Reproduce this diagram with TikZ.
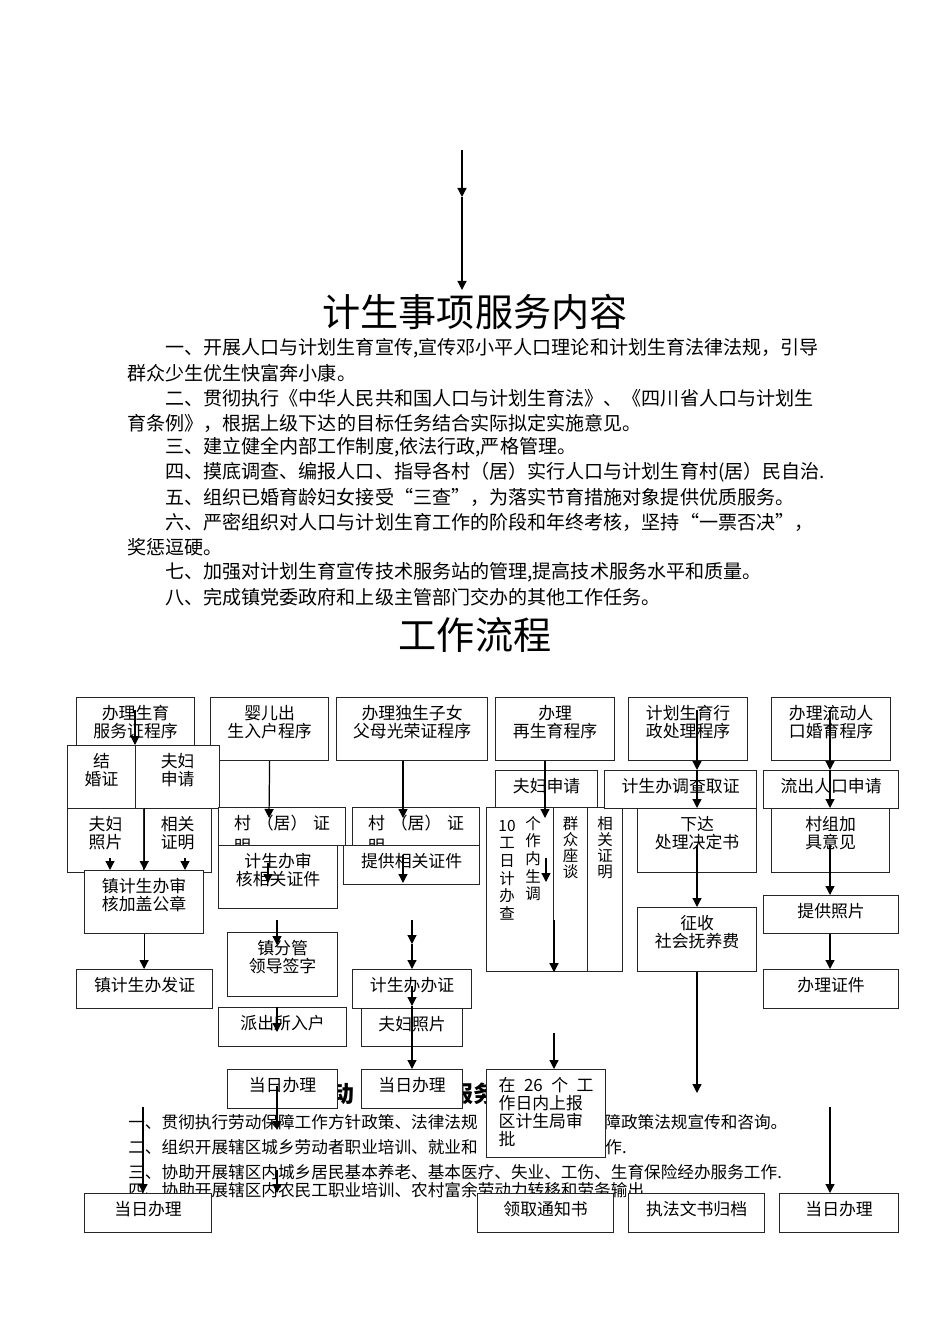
\documentclass[tikz,border=0pt]{standalone}
\usepackage{fontspec}
\setmainfont{Noto Sans CJK SC}
\usetikzlibrary{arrows.meta}
\newcommand\ttlfnt{\fontsize{21.7pt}{26pt}\selectfont}
\newcommand\bdyfnt{\fontsize{10.85pt}{13pt}\selectfont}
\newcommand\lbrfnt{\fontsize{9.47pt}{12pt}\selectfont}
\newcommand\hdfnt{\fontsize{13pt}{15pt}\selectfont\bfseries}
\newcommand\flwfnt{\fontsize{9.6pt}{10.2pt}\selectfont}
\newcommand\vrtfnt{\fontsize{8.8pt}{9.1pt}\selectfont}
\newcommand\colfnt{\fontsize{8.8pt}{10pt}\selectfont}

\begin{document}
\begin{tikzpicture}[x=0.02cm, y=-0.02cm, >={Triangle[length=1.8mm, width=1.8mm]},
  every node/.style={inner sep=0pt},
  bodyline/.style={anchor=west, font=\bdyfnt},
  laborline/.style={anchor=west, font=\lbrfnt},
  box/.style 2 args={draw=black!85, line width=0.7pt, fill=white, anchor=north west, align=center, font=\flwfnt,
    /utils/exec={\pgfmathsetlengthmacro\bxwd{#1*0.02cm}\pgfmathsetlengthmacro\bxdp{#2*0.02cm-0.44cm}},
    text width=\bxwd, text height=0.44cm, text depth=\bxdp},
  vcol/.style={anchor=north, align=center, font=\colfnt, text width=0.6cm, text height=0.28cm},
  flow/.style={->, line width=0.7pt}]
  \useasboundingbox (0,0) rectangle (950,1344);
  \fill[white] (0,0) rectangle (950,1344);

  % service text
  \node[font=\ttlfnt] (ttl1) at (475,312) {计生事项服务内容};
  \node[bodyline] (p1) at (165,348) {一、开展人口与计划生育宣传,宣传邓小平人口理论和计划生育法律法规，引导};
  \node[bodyline] (p2) at (127,373) {群众少生优生快富奔小康。};
  \node[bodyline] (p3) at (165,398) {二、贯彻执行《中华人民共和国人口与计划生育法》、《四川省人口与计划生};
  \node[bodyline] (p4) at (127,423) {育条例》，根据上级下达的目标任务结合实际拟定实施意见。};
  \node[bodyline] (p5) at (165,447) {三、建立健全内部工作制度,依法行政,严格管理。};
  \node[bodyline] (p6) at (165,472) {四、摸底调查、编报人口、指导各村（居）实行人口与计划生育村(居）民自治.};
  \node[bodyline] (p7) at (165,497) {五、组织已婚育龄妇女接受“三查”，为落实节育措施对象提供优质服务。};
  \node[bodyline] (p8) at (165,522) {六、严密组织对人口与计划生育工作的阶段和年终考核，坚持“一票否决”，};
  \node[bodyline] (p9) at (127,547) {奖惩逗硬。};
  \node[bodyline] (p10) at (165,572) {七、加强对计划生育宣传技术服务站的管理,提高技术服务水平和质量。};
  \node[bodyline] (p11) at (165,597) {八、完成镇党委政府和上级主管部门交办的其他工作任务。};
  \node[font=\ttlfnt] (ttl2) at (475,635) {工作流程};

  % labour text, partly hidden by the boxes
  \node[font=\hdfnt] (lh1) at (343,1094) {动};
  \node[font=\hdfnt] (lh2) at (473,1094) {服务};
  \node[laborline] (l1) at (128,1122) {一、贯彻执行劳动保障工作方针政策、法律法规};
  \node[laborline] (l1b) at (604,1122) {障政策法规宣传和咨询。};
  \node[laborline] (l2) at (128,1147) {二、组织开展辖区城乡劳动者职业培训、就业和};
  \node[laborline] (l2b) at (605,1147) {作.};
  \node[laborline] (l3) at (128,1172) {三、协助开展辖区内城乡居民基本养老、基本医疗、失业、工伤、生育保险经办服务工作.};
  \node[laborline] (l4) at (128,1190) {四、协助开展辖区内农民工职业培训、农村富余劳动力转移和劳务输出};

  % flow boxes
  \node[box={118}{50}] (a1) at (76,697) {办理生育\\服务证程序};
  \node[box={118}{63}] (a2) at (210,697) {婴儿出\\生入户程序};
  \node[box={151}{63}] (a3) at (336,697) {办理独生子女\\父母光荣证程序};
  \node[box={119}{63}] (a4) at (495,697) {办理\\再生育程序};
  \node[box={119}{63}] (a5) at (628,697) {计划生育行\\政处理程序};
  \node[box={119}{63}] (a6) at (771,697) {办理流动人\\口婚育程序};

  \node[box={68}{63}] (b1) at (67,745) {结\\婚证};
  \node[box={84}{63}] (b2) at (135,745) {夫妇\\申请};
  \node[box={76}{64}] (c1) at (67,808) {夫妇\\照片};
  \node[box={68}{64}] (c2) at (143,808) {相关\\证明};
  \node[box={119}{63}] (d1) at (84,870) {镇计生办审\\核加盖公章};
  \node[box={136}{39}] (e1) at (76,969) {镇计生办发证};

  \node[box={127}{38}] (g1) at (218,807) {\makebox[1.92cm][s]{村\hfill（居）\hfill 证}\\[0.1cm]\makebox[1.92cm][l]{明}};
  \node[box={119}{63}] (g2) at (218,845) {计生办审\\核相关证件};
  \node[box={110}{64}] (g3) at (227,932) {镇分管\\领导签字};
  \node[box={128}{39}] (g4) at (218,1007) {派出所入户};

  \node[box={127}{38}] (h1) at (352,807) {\makebox[1.92cm][s]{村\hfill（居）\hfill 证}\\[0.1cm]\makebox[1.92cm][l]{明}};
  \node[box={136}{39}] (h2) at (343,845) {提供相关证件};
  \node[box={119}{39}] (h3) at (352,969) {计生办办证};
  \node[box={101}{38}] (h4) at (361,1008) {夫妇照片};

  \node[box={102}{37}] (i1) at (495,770) {夫妇申请};
  \node[box={67}{164}] (i2) at (486,807) {};
  \node[box={34}{164}, font=\vrtfnt] (i3) at (553,807) {群\\众\\座\\谈};
  \node[box={35}{164}, font=\vrtfnt] (i4) at (587,807) {相\\关\\证\\明};
  \node[vcol] (i2l) at (507,817) {10\\工\\日\\计\\办\\查};
  \node[vcol] (i2r) at (533,815) {个\\作\\内\\生\\调};

  \node[box={152}{38}] (j1) at (604,770) {计生办调查取证};
  \node[box={119}{64}] (j2) at (637,808) {下达\\处理决定书};
  \node[box={119}{64}] (j3) at (637,907) {征收\\社会抚养费};

  \node[box={135}{38}] (k1) at (763,770) {流出人口申请};
  \node[box={118}{64}] (k2) at (771,808) {村组加\\具意见};
  \node[box={135}{38}] (k3) at (763,895) {提供照片};
  \node[box={135}{39}] (k4) at (763,969) {办理证件};

  % boxes lying over the labour text
  \node[box={110}{39}] (g5) at (227,1069) {当日办理};
  \node[box={101}{39}] (h5) at (361,1069) {当日办理};
  \node[box={119}{88}] (m1) at (486,1069) {\makebox[1.9cm][s]{在\hfill 26\hfill 个\hfill 工}\\\makebox[1.9cm][l]{作日内上报}\\\makebox[1.9cm][l]{区计生局审}\\\makebox[1.9cm][l]{批}};
  \node[box={127}{39}] (f1) at (84,1193) {当日办理};
  \node[box={136}{39}] (m2) at (477,1193) {领取通知书};
  \node[box={136}{39}] (j4) at (628,1193) {执法文书归档};
  \node[box={119}{39}] (k5) at (779,1193) {当日办理};

  % arrows
  \coordinate (t0) at (462,150); \coordinate (t1) at (462,197); \coordinate (t2) at (462,290);
  \draw[flow] (t0) -- (t1); \draw[flow] (t1) -- (t2);

  \coordinate (a1x) at (135,710);
  \draw[flow] (a1x) -- (a1x |- b1.north);
  \draw[flow] (c1.north east) -- (c1.north east |- d1.north);
  \coordinate (c1x) at (110,858); \coordinate (c2x) at (185,858);
  \draw[flow] (c1x) -- (c1x |- d1.north);
  \draw[flow] (c2x) -- (c2x |- d1.north);
  \draw[flow] (d1.south) -- (d1.south |- e1.north);
  \coordinate (e1x) at (143,1107);
  \draw[flow] (e1x) -- (e1x |- f1.north);

  \coordinate (a2x) at (269,818);
  \draw[flow] (a2.south) -- (a2x);
  \coordinate (g2x) at (268,863); \coordinate (g2y) at (268,883);
  \draw[flow] (g2x) -- (g2y);
  \coordinate (g3x) at (277,920); \coordinate (g3y) at (277,945);
  \draw[flow] (g3x) -- (g3y);
  \coordinate (g4x) at (277,1032);
  \draw[flow] (g4.north -| g4x) -- (g4x);
  \coordinate (g5x) at (277,1086); \coordinate (g5y) at (277,1130);
  \draw[flow] (g5x) -- (g5y);
  \coordinate (g6x) at (277,1170);
  \draw[flow] (g6x) -- (g6x |- f1.north);

  \coordinate (a3x) at (403,818);
  \draw[flow] (a3.south -| a3x) -- (a3x);
  \coordinate (h2x) at (403,855); \coordinate (h2y) at (403,883);
  \draw[flow] (h2x) -- (h2y);
  \coordinate (h3x) at (412,920); \coordinate (h3y) at (412,944);
  \draw[flow] (h3x) -- (h3y); \draw[flow] (h3y) -- (h3y |- h3.north);
  \coordinate (h4x) at (412,986); \coordinate (h4y) at (412,1006);
  \draw[flow] (h4x) -- (h4y); \draw[flow] (h4y) -- (h4y |- h5.north);

  \coordinate (a4x) at (545,818);
  \draw[flow] (a4.south -| a4x) -- (a4x);
  \coordinate (i2x) at (546,858); \coordinate (i2y) at (546,882);
  \draw[flow] (i2x) -- (i2y);
  \coordinate (i3x) at (554,920);
  \draw[flow] (i3x) -- (i3x |- i2.south);
  \coordinate (m1x) at (554,1033);
  \draw[flow] (m1x) -- (m1x |- m1.north);

  \coordinate (a5x) at (697,710);
  \draw[flow] (a5x) -- (a5x |- j1.north);
  \draw[flow] (a5x |- j1.north) -- (a5x |- j2.north);
  \coordinate (j2x) at (697,845);
  \draw[flow] (j2x) -- (j2x |- j3.north);
  \coordinate (j3x) at (697,1093);
  \draw[flow] (j3.south -| j3x) -- (j3x);

  \coordinate (a6x) at (830,710);
  \draw[flow] (a6x) -- (a6x |- k1.north);
  \draw[flow] (a6x |- k1.north) -- (a6x |- k2.north);
  \coordinate (k2x) at (830,845);
  \draw[flow] (k2x) -- (k2x |- k3.north);
  \draw[flow] (k3.south -| k2x) -- (k2x |- k4.north);
  \coordinate (k5x) at (830,1107);
  \draw[flow] (k5x) -- (k5x |- k5.north);
\end{tikzpicture}
\end{document}
